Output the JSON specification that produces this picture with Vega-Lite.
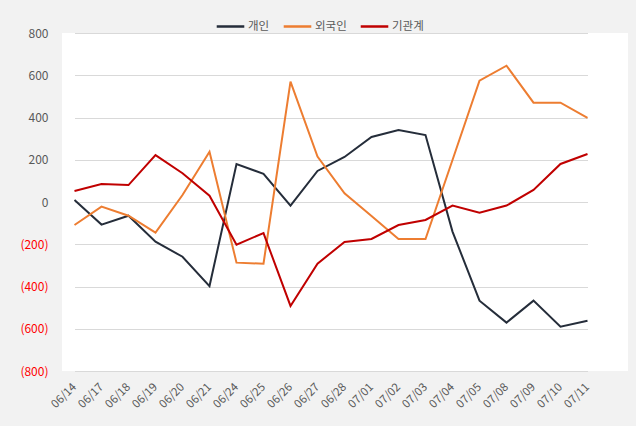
{
  "$schema": "https://vega.github.io/schema/vega-lite/v6.json",
  "autosize": {"type": "none"},
  "width": 566,
  "height": 338,
  "padding": {"left": 62, "top": 33, "right": 8, "bottom": 55},
  "background": "#f2f2f2",
  "config": {
    "view": {"fill": "white", "stroke": null},
    "font": "Noto Sans CJK KR",
    "axis": {"labelFont": "Noto Sans CJK KR", "labelColor": "#595959", "labelFontSize": 12},
    "legend": {"labelFont": "Noto Sans CJK KR"}
  },
  "data": {
    "values": [
      {"date": "06/14", "series": "개인", "value": 10},
      {"date": "06/17", "series": "개인", "value": -107},
      {"date": "06/18", "series": "개인", "value": -65},
      {"date": "06/19", "series": "개인", "value": -188},
      {"date": "06/20", "series": "개인", "value": -259},
      {"date": "06/21", "series": "개인", "value": -398},
      {"date": "06/24", "series": "개인", "value": 180},
      {"date": "06/25", "series": "개인", "value": 133},
      {"date": "06/26", "series": "개인", "value": -17},
      {"date": "06/27", "series": "개인", "value": 147},
      {"date": "06/28", "series": "개인", "value": 213},
      {"date": "07/01", "series": "개인", "value": 308},
      {"date": "07/02", "series": "개인", "value": 341},
      {"date": "07/03", "series": "개인", "value": 317},
      {"date": "07/04", "series": "개인", "value": -140},
      {"date": "07/05", "series": "개인", "value": -467},
      {"date": "07/08", "series": "개인", "value": -571},
      {"date": "07/09", "series": "개인", "value": -467},
      {"date": "07/10", "series": "개인", "value": -590},
      {"date": "07/11", "series": "개인", "value": -562},
      {"date": "06/14", "series": "외국인", "value": -109},
      {"date": "06/17", "series": "외국인", "value": -22},
      {"date": "06/18", "series": "외국인", "value": -65},
      {"date": "06/19", "series": "외국인", "value": -145},
      {"date": "06/20", "series": "외국인", "value": 33},
      {"date": "06/21", "series": "외국인", "value": 238},
      {"date": "06/24", "series": "외국인", "value": -287},
      {"date": "06/25", "series": "외국인", "value": -292},
      {"date": "06/26", "series": "외국인", "value": 570},
      {"date": "06/27", "series": "외국인", "value": 215},
      {"date": "06/28", "series": "외국인", "value": 41},
      {"date": "07/01", "series": "외국인", "value": -66},
      {"date": "07/02", "series": "외국인", "value": -175},
      {"date": "07/03", "series": "외국인", "value": -175},
      {"date": "07/04", "series": "외국인", "value": 199},
      {"date": "07/05", "series": "외국인", "value": 574},
      {"date": "07/08", "series": "외국인", "value": 645},
      {"date": "07/09", "series": "외국인", "value": 470},
      {"date": "07/10", "series": "외국인", "value": 470},
      {"date": "07/11", "series": "외국인", "value": 398},
      {"date": "06/14", "series": "기관계", "value": 52},
      {"date": "06/17", "series": "기관계", "value": 85},
      {"date": "06/18", "series": "기관계", "value": 80},
      {"date": "06/19", "series": "기관계", "value": 222},
      {"date": "06/20", "series": "기관계", "value": 136},
      {"date": "06/21", "series": "기관계", "value": 30},
      {"date": "06/24", "series": "기관계", "value": -202},
      {"date": "06/25", "series": "기관계", "value": -147},
      {"date": "06/26", "series": "기관계", "value": -492},
      {"date": "06/27", "series": "기관계", "value": -292},
      {"date": "06/28", "series": "기관계", "value": -189},
      {"date": "07/01", "series": "기관계", "value": -175},
      {"date": "07/02", "series": "기관계", "value": -109},
      {"date": "07/03", "series": "기관계", "value": -85},
      {"date": "07/04", "series": "기관계", "value": -17},
      {"date": "07/05", "series": "기관계", "value": -51},
      {"date": "07/08", "series": "기관계", "value": -17},
      {"date": "07/09", "series": "기관계", "value": 57},
      {"date": "07/10", "series": "기관계", "value": 180},
      {"date": "07/11", "series": "기관계", "value": 227}
    ]
  },
  "mark": {"type": "line", "strokeWidth": 2},
  "encoding": {
    "x": {
      "field": "date",
      "type": "ordinal",
      "sort": null,
      "scale": {"type": "point", "range": [12.5, 525.5], "padding": 0},
      "axis": {
        "title": null,
        "labelAngle": -45,
        "labelAlign": "right",
        "labelBaseline": "middle",
        "labelPadding": 14,
        "labelFontSize": 11.5,
        "domain": false,
        "ticks": false,
        "grid": false
      }
    },
    "y": {
      "field": "value",
      "type": "quantitative",
      "scale": {"domain": [-800, 800], "nice": false, "zero": false},
      "axis": {
        "title": null,
        "values": [-800, -600, -400, -200, 0, 200, 400, 600, 800],
        "labelExpr": "datum.value < 0 ? '(' + format(-datum.value, 'd') + ')' : format(datum.value, 'd')",
        "labelColor": {"condition": {"test": "datum.value < 0", "value": "#ff0000"}, "value": "#595959"},
        "labelPadding": 14,
        "domain": false,
        "ticks": false,
        "grid": true,
        "gridColor": "#d9d9d9",
        "gridWidth": 1
      }
    },
    "color": {
      "field": "series",
      "type": "nominal",
      "scale": {"domain": ["개인", "외국인", "기관계"], "range": ["#252d3a", "#ed7d31", "#c00000"]},
      "legend": {
        "title": null,
        "orient": "none",
        "direction": "horizontal",
        "legendX": 153,
        "legendY": -22,
        "symbolType": "stroke",
        "symbolSize": 760,
        "symbolStrokeWidth": 2.5,
        "labelFontSize": 11.5,
        "labelColor": "#595959",
        "labelOffset": 2,
        "columnPadding": 8
      }
    }
  }
}
